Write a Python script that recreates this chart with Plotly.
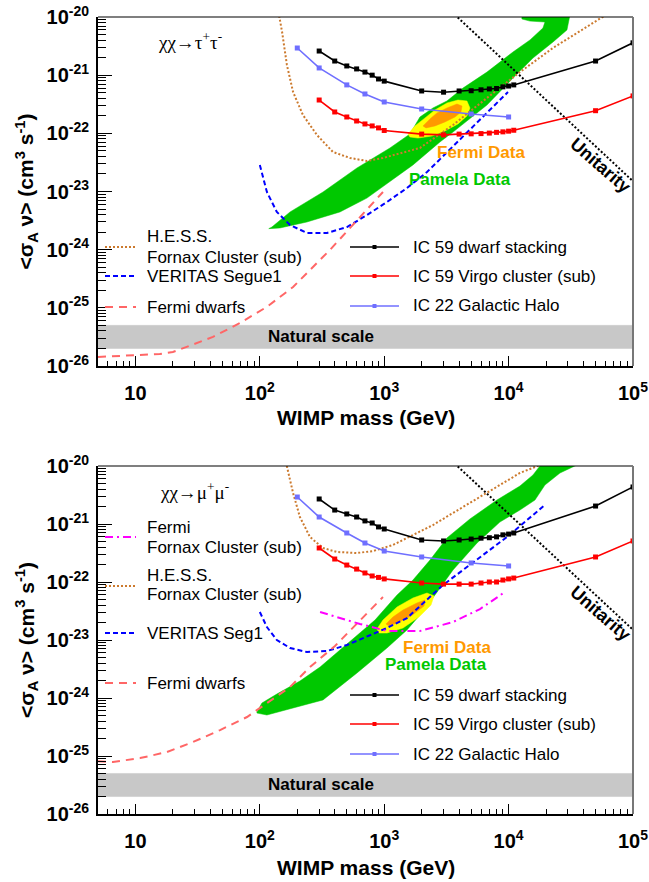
import math
import plotly.graph_objects as go

W, H = 649, 882
SANS = "Liberation Sans, Arial, Helvetica, sans-serif"
SERIF = "Liberation Serif, Times New Roman, serif"

# ---------------- data ----------------
ic59_mass = [300, 400, 500, 600, 700, 800, 900, 1000, 2000, 3000, 4000, 5000,
             6000, 7000, 8000, 9000, 10000, 11000, 50000, 100000]
ic22_mass = [200, 300, 500, 700, 1000, 2000, 5000, 10000]

tau_ic59_dwarf = [2.6e-21, 1.75e-21, 1.44e-21, 1.28e-21, 1.13e-21, 1.0e-21, 8.6e-22, 7.9e-22,
                  5.35e-22, 5.1e-22, 5.35e-22, 5.4e-22, 5.6e-22, 5.8e-22, 5.9e-22, 6.3e-22,
                  6.5e-22, 6.8e-22, 1.75e-21, 3.6e-21]
tau_ic59_virgo = [3.74e-22, 2.33e-22, 1.91e-22, 1.63e-22, 1.45e-22, 1.34e-22, 1.24e-22, 1.12e-22,
                  9.7e-23, 9.4e-23, 9.7e-23, 9.8e-23, 9.9e-23, 1.01e-22, 1.04e-22, 1.06e-22,
                  1.09e-22, 1.13e-22, 2.45e-22, 4.4e-22]
tau_ic22 = [2.93e-21, 1.33e-21, 6.8e-22, 4.75e-22, 3.46e-22, 2.62e-22, 2.15e-22, 1.91e-22]

mu_ic59_dwarf = [2.7e-21, 1.74e-21, 1.49e-21, 1.32e-21, 1.13e-21, 1.04e-21, 8.9e-22, 8.2e-22,
                 5.3e-22, 5.1e-22, 5.3e-22, 5.5e-22, 5.7e-22, 5.8e-22, 6.0e-22, 6.5e-22,
                 6.7e-22, 7.0e-22, 2.04e-21, 4.35e-21]
mu_ic59_virgo = [3.86e-22, 2.49e-22, 1.96e-22, 1.67e-22, 1.43e-22, 1.27e-22, 1.2e-22, 1.13e-22,
                 9.6e-23, 9.2e-23, 9.2e-23, 9.2e-23, 9.6e-23, 1.0e-22, 1.0e-22, 1.08e-22,
                 1.13e-22, 1.17e-22, 2.7e-22, 5.1e-22]
mu_ic22 = [2.92e-21, 1.32e-21, 7.0e-22, 4.7e-22, 3.42e-22, 2.7e-22, 2.13e-22, 1.89e-22]

tau_hess_m = [143, 151, 165, 185, 222, 288, 387, 531, 726, 977, 1936, 3573, 6699, 12330, 22700, 59000]
tau_hess_sv = [1.05e-20, 5.52e-21, 1.5e-21, 5.14e-22, 2.07e-22, 9.35e-23, 4.78e-23, 3.77e-23,
               3.35e-23, 3.77e-23, 5.6e-23, 1.39e-22, 4.06e-22, 1.13e-21, 2.93e-21, 1.05e-20]
mu_hess_m = [162, 185, 210, 253, 322, 417, 604, 813, 1175, 1702, 2466, 3573, 6699, 12330, 21480]
mu_hess_sv = [1.17e-20, 3.42e-21, 1.32e-21, 5.97e-22, 3.85e-22, 3.29e-22, 3.16e-22, 3.42e-22,
              4.35e-22, 6.46e-22, 9.6e-22, 1.55e-21, 3.42e-21, 7.57e-21, 1.22e-20]

tau_veritas_m = [100, 114, 137, 175, 239, 347, 502, 726, 1052, 1524, 2208, 9886]
tau_veritas_sv = [2.86e-23, 9.8e-24, 4.45e-24, 2.65e-24, 1.94e-24, 1.94e-24, 2.45e-24, 3.94e-24,
                  6.6e-24, 1.15e-23, 2.16e-23, 5.14e-22]
mu_veritas_m = [100, 114, 137, 175, 239, 347, 502, 726, 1052, 1524, 2208, 2965, 5370, 9705, 19590]
mu_veritas_sv = [3.04e-23, 1.67e-23, 1.0e-23, 7.28e-24, 6.2e-24, 6.46e-24, 8.2e-24, 1.13e-23,
                 1.61e-23, 2.39e-23, 4.9e-23, 8.87e-23, 2.3e-22, 5.97e-22, 2.13e-21]

tau_fermi_dw_m = [5, 9.55, 15.7, 20, 25.9, 42, 69.2, 114, 185, 267, 366, 977]
tau_fermi_dw_sv = [1.43e-26, 1.55e-26, 1.61e-26, 1.74e-26, 2.12e-26, 3.16e-26, 5.5e-26, 1.04e-25,
                   2.28e-25, 5.04e-25, 9.9e-25, 9.8e-24]
mu_fermi_dw_m = [5, 6.6, 10.9, 17.9, 29, 47.9, 78.9, 114, 175, 253, 402, 977]
mu_fermi_dw_sv = [8.1e-26, 7.9e-26, 9.2e-26, 1.17e-25, 1.74e-25, 2.8e-25, 4.7e-25, 8.2e-25,
                  1.55e-24, 3.42e-24, 7.9e-24, 5.5e-23]

mu_fermi_fornax_m = [305, 441, 638, 1052, 1936, 3573, 5888, 9354]
mu_fermi_fornax_sv = [3.04e-23, 2.39e-23, 1.89e-23, 1.43e-23, 1.43e-23, 2.04e-23, 3.42e-23, 6.73e-23]

unitarity_m = [3500, 100000]
unitarity_sv = [1.22e-20, 1.5e-23]

natural_m = [5, 100000]
natural_sv = [2e-26, 5e-26]

tau_pamela_m = [125, 175, 322, 604, 1112, 1611, 1936, 2466, 3192, 4295, 6699, 10840, 14860, 18880,
                19590, 14860, 12790, 12790, 31120, 29440, 22750, 15700, 10840, 6699, 3573, 2805,
                1702, 1112, 726, 441, 239, 145, 118]
tau_pamela_sv = [2.45e-24, 4.45e-24, 9.8e-24, 2.54e-23, 5.6e-23, 9.75e-23, 1.91e-22, 2.73e-22,
                 3.6e-22, 6.0e-22, 1.13e-21, 2.5e-21, 4.03e-21, 6.47e-21, 8.2e-21, 8.5e-21,
                 9.25e-21, 1.08e-20, 1.08e-20, 5.98e-21, 3.72e-21, 1.97e-21, 8.9e-22, 3.07e-22,
                 1.05e-22, 7.1e-23, 2.86e-23, 1.46e-23, 7.7e-24, 4.45e-24, 2.99e-24, 2.36e-24, 2.3e-24]
tau_fermi1_m = [1552, 1766, 2128, 2559, 3199, 3917, 4624, 4887, 4624, 3917, 3076, 2421, 1866, 1611]
tau_fermi1_sv = [9.75e-23, 1.34e-22, 1.84e-22, 2.52e-22, 3.33e-22, 3.74e-22, 3.6e-22, 2.73e-22,
                 1.99e-22, 1.45e-22, 1.1e-22, 9.0e-23, 8.3e-23, 8.65e-23]
tau_fermi2_m = [2051, 2333, 2655, 3199, 3846, 4217, 4140, 3707, 3076, 2559, 2168]
tau_fermi2_sv = [1.34e-22, 1.77e-22, 2.24e-22, 2.73e-22, 3.19e-22, 2.95e-22, 2.33e-22, 1.91e-22,
                 1.57e-22, 1.34e-22, 1.24e-22]

mu_pamela_m = [94.8, 104, 137, 210, 305, 441, 638, 843, 1268, 1702, 2333, 3192, 4887, 8054, 12330,
               15700, 18880, 37410, 35400, 25880, 19590, 16290, 12330, 8511, 5572, 3573, 2559,
               1936, 1524, 1052, 604, 322, 185, 114, 94.8]
mu_pamela_sv = [5.74e-25, 8.2e-25, 1.17e-24, 1.96e-24, 3.42e-24, 6.73e-24, 1.37e-23, 2.21e-23,
                5.97e-23, 1.08e-22, 2.39e-22, 5.74e-22, 1.22e-21, 2.59e-21, 4.52e-21, 7.0e-21,
                1.17e-20, 1.17e-20, 1.04e-20, 7.57e-21, 4.7e-21, 2.59e-21, 1.74e-21, 1.08e-21,
                4.7e-22, 1.61e-22, 5.97e-23, 2.7e-23, 1.49e-23, 7.28e-24, 2.7e-24, 9.25e-25,
                6.73e-25, 5.09e-25, 5.5e-25]
mu_fermi1_m = [875, 977, 1268, 1702, 2208, 2512, 2377, 1901, 1416, 1052, 908]
mu_fermi1_sv = [1.55e-23, 2.21e-23, 3.71e-23, 5.3e-23, 6.46e-23, 5.74e-23, 4.0e-23, 2.49e-23,
                1.61e-23, 1.32e-23, 1.32e-23]
mu_fermi2_m = [1033, 1175, 1416, 1832, 2128, 2089, 1641, 1268, 1091]
mu_fermi2_sv = [1.89e-23, 2.49e-23, 3.29e-23, 4.35e-23, 4.9e-23, 3.85e-23, 2.59e-23, 1.96e-23, 1.74e-23]

x_tick_vals = [10, 100, 1000, 10000, 100000]
x_tick_text = ["10", "10<sup>2</sup>", "10<sup>3</sup>", "10<sup>4</sup>", "10<sup>5</sup>"]
y_tick_exps = [-26, -25, -24, -23, -22, -21, -20]

# ---------------- colours / styles ----------------
C_GREEN = "#00c800"
C_YELLOW = "#ffff00"
C_ORANGE = "#ff9900"
C_HESS = "#cc7a2e"
C_VER = "#0000ff"
C_FDW = "#ff6666"
C_FFX = "#ff00ff"
C_IC22 = "#6f6fff"
C_RED = "#ff0000"
C_GRAY = "#c8c8c8"

S_HESS = dict(color=C_HESS, width=2, dash="2px,2px")
S_VER = dict(color=C_VER, width=2, dash="5px,3px")
S_FDW = dict(color=C_FDW, width=2, dash="8px,6px")
S_FFX = dict(color=C_FFX, width=2, dash="8px,4px,2px,4px")
S_UNI = dict(color="black", width=2, dash="2px,2px")

fig = go.Figure()


def fx(p):
    return p / W


def fy(p):
    return 1 - p / H


def add_fill(xa, ya, m, sv, color):
    fig.add_trace(go.Scatter(x=list(m) + [m[0]], y=list(sv) + [sv[0]], xaxis=xa, yaxis=ya,
                             mode="lines", fill="toself", fillcolor=color,
                             line=dict(width=0.5, color=color), hoverinfo="skip", showlegend=False))


def add_line(xa, ya, m, sv, style, markers=False):
    fig.add_trace(go.Scatter(x=m, y=sv, xaxis=xa, yaxis=ya,
                             mode="lines+markers" if markers else "lines",
                             line=style, marker=dict(symbol="square", size=5, color=style["color"]),
                             hoverinfo="skip", showlegend=False))


panels = [
    dict(xa="x", ya="y", top=17, bot=366,
         pam=(tau_pamela_m, tau_pamela_sv), f1=(tau_fermi1_m, tau_fermi1_sv), f2=(tau_fermi2_m, tau_fermi2_sv),
         hess=(tau_hess_m, tau_hess_sv), ver=(tau_veritas_m, tau_veritas_sv),
         fdw=(tau_fermi_dw_m, tau_fermi_dw_sv), ffx=None,
         ic59d=tau_ic59_dwarf, ic59v=tau_ic59_virgo, ic22=tau_ic22,
         title=("χχ→τ<sup>+</sup>τ<sup>-</sup>", 190, 41),
         fermi_lab=(481, 153), pam_lab=(460, 179), uni_lab=(600, 165), nat_lab=(321, 336),
         left_leg=[(247, S_HESS, [("H.E.S.S.", 237), ("Fornax Cluster (sub)", 257)]),
                   (276, S_VER, [("VERITAS Segue1", 276)]),
                   (307, S_FDW, [("Fermi dwarfs", 307)])],
         right_leg=[247, 276, 306], xt_y=418),
    dict(xa="x2", ya="y2", top=466, bot=814,
         pam=(mu_pamela_m, mu_pamela_sv), f1=(mu_fermi1_m, mu_fermi1_sv), f2=(mu_fermi2_m, mu_fermi2_sv),
         hess=(mu_hess_m, mu_hess_sv), ver=(mu_veritas_m, mu_veritas_sv),
         fdw=(mu_fermi_dw_m, mu_fermi_dw_sv), ffx=(mu_fermi_fornax_m, mu_fermi_fornax_sv),
         ic59d=mu_ic59_dwarf, ic59v=mu_ic59_virgo, ic22=mu_ic22,
         title=("χχ→μ<sup>+</sup>μ<sup>-</sup>", 194, 491),
         fermi_lab=(447, 647), pam_lab=(436, 664), uni_lab=(600, 613), nat_lab=(321, 784),
         left_leg=[(537, S_FFX, [("Fermi", 527), ("Fornax Cluster (sub)", 547)]),
                   (586, S_HESS, [("H.E.S.S.", 575), ("Fornax Cluster (sub)", 594)]),
                   (633, S_VER, [("VERITAS Seg1", 633)]),
                   (683, S_FDW, [("Fermi dwarfs", 683)])],
         right_leg=[695, 724, 754], xt_y=867),
]

shapes = []
annotations = []
layout_axes = {}
X0, X1 = 98, 633
minor_vals = [k * 10 ** e for e in range(0, 6) for k in range(2, 10)]
y_minor_vals = [k * 10.0 ** e for e in range(-27, -19) for k in range(2, 10)]


def ann(text, x, y, size=17, color="black", bold=False, xanchor="center", angle=0, family=SANS):
    annotations.append(dict(text=("<b>%s</b>" % text) if bold else text, x=fx(x), y=fy(y),
                            xref="paper", yref="paper", showarrow=False, xanchor=xanchor,
                            yanchor="middle", textangle=angle,
                            font=dict(family=family, size=size, color=color)))


for i, P in enumerate(panels):
    xa, ya = P["xa"], P["ya"]
    # fills
    add_fill(xa, ya, natural_m + natural_m[::-1],
             [natural_sv[0], natural_sv[0], natural_sv[1], natural_sv[1]], C_GRAY)
    add_fill(xa, ya, *P["pam"], C_GREEN)
    add_fill(xa, ya, *P["f1"], C_YELLOW)
    add_fill(xa, ya, *P["f2"], C_ORANGE)
    # limit curves
    add_line(xa, ya, *P["hess"], S_HESS)
    add_line(xa, ya, *P["ver"], S_VER)
    add_line(xa, ya, *P["fdw"], S_FDW)
    if P["ffx"]:
        add_line(xa, ya, *P["ffx"], S_FFX)
    add_line(xa, ya, unitarity_m, unitarity_sv, S_UNI)
    add_line(xa, ya, ic22_mass, P["ic22"], dict(color=C_IC22, width=1.6), markers=True)
    add_line(xa, ya, ic59_mass, P["ic59v"], dict(color=C_RED, width=1.6), markers=True)
    add_line(xa, ya, ic59_mass, P["ic59d"], dict(color="black", width=1.6), markers=True)

    top, bot = P["top"], P["bot"]
    sfx = "" if i == 0 else "2"
    layout_axes["xaxis" + sfx] = dict(
        type="log", range=[math.log10(5), 5], domain=[X0 / W, X1 / W], anchor="y" + sfx,
        automargin=False,
        showline=True, linecolor="black", linewidth=2, mirror=False,
        ticks="inside", ticklen=10, tickwidth=1.2, tickcolor="black",
        tickmode="array", tickvals=x_tick_vals,
        ticktext=["<b>%s</b>" % t for t in x_tick_text],
        tickfont=dict(family=SANS, size=20, color="black"), ticklabelstandoff=8,
        minor=dict(ticks="inside", ticklen=5, tickwidth=1, tickcolor="black",
                   tickmode="array", tickvals=minor_vals, showgrid=False),
        showgrid=False, zeroline=False)
    layout_axes["yaxis" + sfx] = dict(
        type="log", range=[-26, -20], domain=[1 - bot / H, 1 - top / H], anchor="x" + sfx,
        automargin=False,
        showline=True, linecolor="black", linewidth=2, mirror=False,
        ticks="inside", ticklen=14, tickwidth=1.2, tickcolor="black",
        tickmode="array", tickvals=[10.0 ** e for e in y_tick_exps],
        ticktext=["<b>10<sup>%d</sup></b>" % e for e in y_tick_exps],
        tickfont=dict(family=SANS, size=20, color="black"), ticklabelstandoff=3,
        minor=dict(ticks="inside", ticklen=8, tickwidth=1, tickcolor="black",
                   tickmode="array", tickvals=y_minor_vals, showgrid=False),
        showgrid=False, zeroline=False)

    # frame: top (black) and right (gray)
    shapes.append(dict(type="line", xref="paper", yref="paper", x0=fx(X0), x1=fx(X1),
                       y0=fy(top), y1=fy(top), line=dict(color="black", width=1.2)))
    shapes.append(dict(type="line", xref="paper", yref="paper", x0=fx(X1), x1=fx(X1),
                       y0=fy(top), y1=fy(bot), line=dict(color="#777777", width=2)))

    t, tx, ty = P["title"]
    ann(t, tx, ty, size=19, family=SERIF)
    ann("Fermi Data", *P["fermi_lab"], size=17, color=C_ORANGE, bold=True)
    ann("Pamela Data", *P["pam_lab"], size=17, color=C_GREEN, bold=True)
    ann("Unitarity", *P["uni_lab"], size=18, bold=True, angle=41)
    ann("Natural scale", *P["nat_lab"], size=17, bold=True)
    ann("WIMP mass (GeV)", (X0 + X1) / 2, P["xt_y"], size=21, bold=True)
    ann("&lt;σ<sub>A</sub> ν&gt; (cm<sup>3</sup> s<sup>-1</sup>)", 26, (top + bot) / 2, size=21,
        bold=True, angle=-90)

    # left legend (drawn by hand)
    for (sy, st, texts) in P["left_leg"]:
        shapes.append(dict(type="line", xref="paper", yref="paper", x0=fx(105), x1=fx(136),
                           y0=fy(sy), y1=fy(sy), line=dict(color=st["color"], width=2, dash=st["dash"])))
        for (txt, yy) in texts:
            ann(txt, 145, yy, size=17, xanchor="left")
    # right legend
    for (sy, col, txt) in zip(P["right_leg"], ["black", C_RED, C_IC22],
                              ["IC 59 dwarf stacking", "IC 59 Virgo cluster (sub)", "IC 22 Galactic Halo"]):
        shapes.append(dict(type="line", xref="paper", yref="paper", x0=fx(350), x1=fx(399),
                           y0=fy(sy), y1=fy(sy), line=dict(color=col, width=1.6)))
        shapes.append(dict(type="rect", xref="paper", yref="paper", x0=fx(372.5), x1=fx(376.5),
                           y0=fy(sy + 2), y1=fy(sy - 2), line=dict(width=0), fillcolor=col))
        ann(txt, 411, sy, size=17, xanchor="left")

fig.update_layout(
    width=W, height=H, margin=dict(l=0, r=0, t=0, b=0),
    paper_bgcolor="white", plot_bgcolor="white", showlegend=False,
    font=dict(family=SANS, color="black"),
    shapes=shapes, annotations=annotations, **layout_axes)

fig.write_html("out.html")
